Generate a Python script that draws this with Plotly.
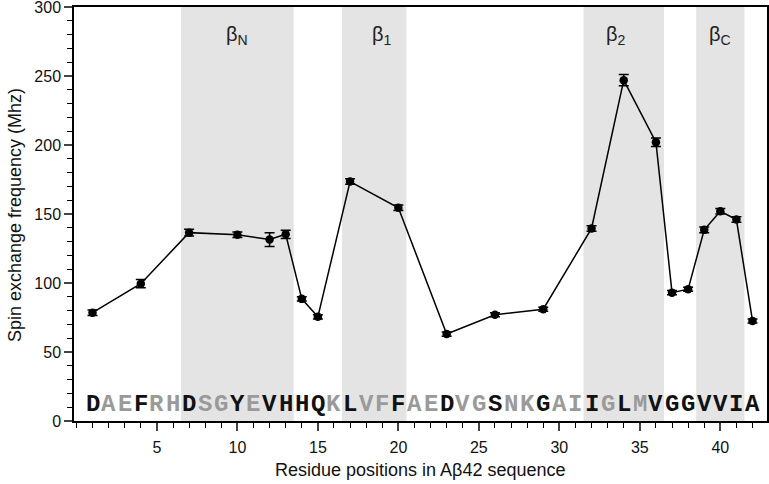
import plotly.graph_objects as go

# residues with spin labels and measured exchange frequency
positions = [1, 4, 7, 10, 12, 13, 14, 15, 17, 20, 23, 26, 29, 32, 34, 36, 37, 38, 39, 40, 41, 42]
frequency = [78.5, 99.5, 136.5, 135, 131.5, 135.3, 88.5, 75.5, 173.5, 154.5, 63, 77, 81,
             139.5, 247, 202, 93, 95.5, 138.5, 152, 146, 72.5]
freq_err = [2, 3, 2.5, 2, 5, 3, 1.5, 1.5, 2, 2, 1.5, 1.5, 1.5, 2, 4, 3, 1.5, 1.5, 2, 2, 2, 1.5]

sequence = list("DAEFRHDSGYEVHHQKLVFFAEDVGSNKGAIIGLMVGGVVIA")
x_ticks = [5, 10, 15, 20, 25, 30, 35, 40]

# shaded beta-strand regions
strand_names = ["β<sub>N</sub>", "β<sub>1</sub>", "β<sub>2</sub>", "β<sub>C</sub>"]
strand_start = [6.5, 16.5, 31.5, 38.5]
strand_end = [13.5, 20.5, 36.5, 41.5]
strand_label_x = [10, 19, 33.5, 40]

fig = go.Figure()

for x0, x1 in zip(strand_start, strand_end):
    fig.add_shape(type="rect", xref="x", yref="y", x0=x0, x1=x1, y0=0, y1=300,
                  fillcolor="#e4e4e4", line=dict(width=0), layer="below")

fig.add_trace(go.Scatter(
    x=positions, y=frequency, mode="lines+markers",
    line=dict(color="black", width=1.5),
    marker=dict(color="black", size=8.5, symbol="circle"),
    error_y=dict(type="data", array=freq_err, color="black", thickness=1.5, width=5),
    showlegend=False,
))

for name, xl in zip(strand_names, strand_label_x):
    fig.add_annotation(x=xl, y=279, xref="x", yref="y", text=name, showarrow=False,
                       font=dict(family="Liberation Sans, Arial", size=20, color="#222"))

for i, aa in enumerate(sequence, start=1):
    col = "#111111" if i in positions else "#9a9a9a"
    fig.add_annotation(x=i, y=12, xref="x", yref="y", text=aa, showarrow=False,
                       font=dict(family="Liberation Mono, Courier New, monospace",
                                 size=24, color=col, weight="bold"))

# axis titles placed as annotations so the plot area stays fixed
fig.add_annotation(x=0.5, y=-0.118, xref="paper", yref="paper", showarrow=False,
                   xanchor="center", yanchor="middle",
                   text="Residue positions in Aβ42 sequence", font=dict(size=18))
fig.add_annotation(x=-0.085, y=0.4976, xref="paper", yref="paper", showarrow=False,
                   xanchor="center", yanchor="middle",
                   text="Spin exchange frequency (Mhz)", textangle=-90, font=dict(size=18))

fig.update_xaxes(
    range=[-0.15, 42.9], tickvals=x_ticks, ticks="outside", ticklen=8, tickwidth=1.5,
    minor=dict(dtick=1, tick0=0, ticks="outside", ticklen=5, tickwidth=1.2, tickcolor="black"),
    showline=True, linecolor="black", linewidth=1.5, mirror=True, showgrid=False,
    zeroline=False, ticklabelstandoff=3, automargin=False,
)
fig.update_yaxes(
    range=[0, 300], dtick=50, ticks="outside", ticklen=8, tickwidth=1.5,
    minor=dict(dtick=10, ticks="outside", ticklen=5, tickwidth=1.2, tickcolor="black"),
    showline=True, linecolor="black", linewidth=1.5, mirror=True, showgrid=False,
    zeroline=False, automargin=False, ticklabeloverflow="allow",
)
fig.update_layout(
    width=769, height=484,
    margin=dict(l=74, r=2, t=7, b=63),
    plot_bgcolor="white", paper_bgcolor="white",
    font=dict(family="Liberation Sans, Arial", size=16, color="#111"),
)

# drop the browser's default 8px body margin
fig.write_html("out.html", config={"displayModeBar": False},
               post_script="document.body.style.margin='0px';")
